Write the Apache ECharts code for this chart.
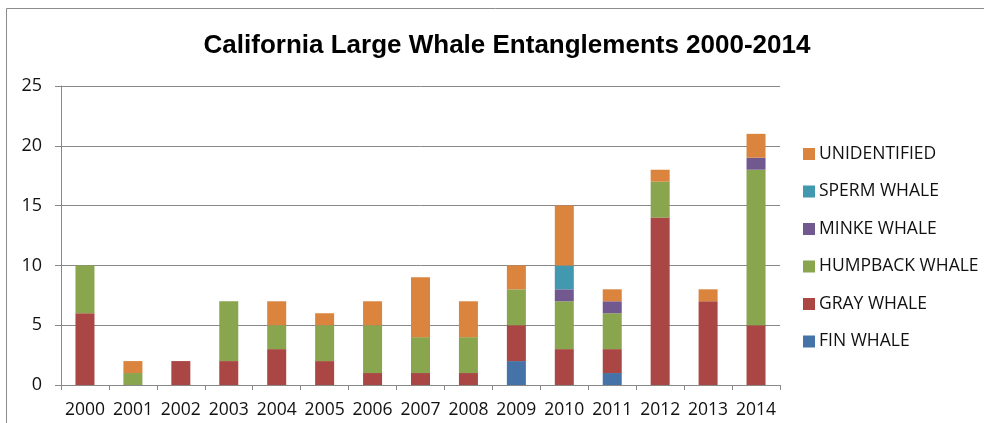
<!DOCTYPE html>
<html><head><meta charset="utf-8">
<script src="https://cdn.jsdelivr.net/npm/echarts@6/dist/echarts.min.js"></script>
<style>html,body{margin:0;padding:0;background:#fff}#c{width:984px;height:423px}</style>
</head><body><div id="c"></div>
<script>
const years = ['2000','2001','2002','2003','2004','2005','2006','2007','2008','2009','2010','2011','2012','2013','2014'];
const finWhale      = [0,0,0,0,0,0,0,0,0,2,0,1,0,0,0];
const grayWhale     = [6,0,2,2,3,2,1,1,1,3,3,2,14,7,5];
const humpbackWhale = [4,1,0,5,2,3,4,3,3,3,4,3,3,0,13];
const minkeWhale    = [0,0,0,0,0,0,0,0,0,0,1,1,0,0,1];
const spermWhale    = [0,0,0,0,0,0,0,0,0,0,2,0,0,0,0];
const unidentified  = [0,1,0,0,2,1,2,5,3,2,5,1,1,1,2];
const yTicks = [0,5,10,15,20,25];

const font = 'Open Sans, Liberation Sans, sans-serif';
const names = ['FIN WHALE','GRAY WHALE','HUMPBACK WHALE','MINKE WHALE','SPERM WHALE','UNIDENTIFIED'];
const colors = ['#4572A7','#AA4643','#89A54E','#71588F','#4198AF','#DB843D'];
const datas = [finWhale, grayWhale, humpbackWhale, minkeWhale, spermWhale, unidentified];

const chart = echarts.init(document.getElementById('c'));
chart.setOption({
  animation:false,
  graphic:[{type:'rect',shape:{x:6.5,y:8.5,width:1000,height:500},style:{fill:'none',stroke:'#8c8c8c',lineWidth:1}}],
  title:{text:'California Large Whale Entanglements 2000-2014',left:502,top:28,textAlign:'center',
    textStyle:{fontFamily:'Liberation Sans, sans-serif',fontWeight:'bold',fontSize:26,color:'#000'}},
  legend:{orient:'vertical',left:798,top:140,itemWidth:12,itemHeight:12,itemGap:19.5,icon:'rect',
    data:names.slice().reverse(),
    textStyle:{fontFamily:font,fontSize:17.5,lineHeight:18,color:'#111',padding:[0,0,0,-1]}},
  grid:{left:61,right:204,top:86,bottom:38,containLabel:false},
  xAxis:{type:'category',data:years,
    axisLine:{lineStyle:{color:'#888',width:1}},
    axisTick:{show:true,alignWithLabel:false,length:5,lineStyle:{color:'#888'}},
    axisLabel:{fontFamily:font,fontSize:17.5,color:'#111',margin:16,interval:0,hideOverlap:false}},
  yAxis:{type:'value',min:0,max:25,interval:5,
    axisLine:{show:true,lineStyle:{color:'#888'}},
    axisTick:{show:true,length:6,lineStyle:{color:'#888'}},
    splitLine:{lineStyle:{color:'#888',width:1}},
    axisLabel:{fontFamily:font,fontSize:18,color:'#111',margin:19,
      formatter:v=>yTicks.includes(v)?String(v):''}},
  series:datas.map((d,i)=>({name:names[i],type:'bar',stack:'t',data:d,barWidth:19,
    itemStyle:{color:colors[i]}}))
});
</script></body></html>
